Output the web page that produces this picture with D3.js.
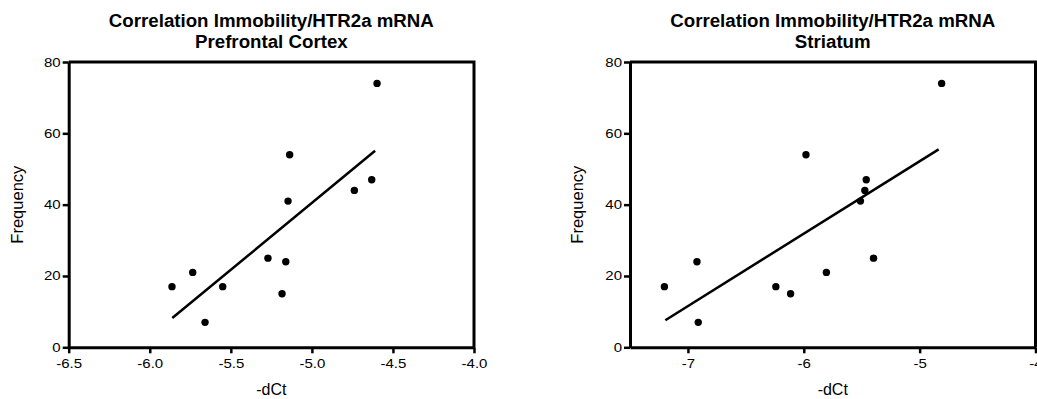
<!DOCTYPE html>
<html>
<head>
<meta charset="utf-8">
<script src="https://cdn.jsdelivr.net/npm/d3@7"></script>
<style>
  body { margin: 0; background: #fff; }
  svg { display: block; font-family: Arial, "Liberation Sans", sans-serif; }
</style>
</head>
<body>
<div id="chart"></div>
<script>
// data
var pfcX = [-5.863, -5.735, -5.659, -5.55, -5.271, -5.161, -5.184, -5.137, -5.147, -4.738, -4.631, -4.598];
var pfcY = [17, 21, 7, 17, 25, 24, 15, 54, 41, 44, 47, 74];
var pfcFitX = [-5.861, -4.61];
var pfcFitY = [8.2, 55.1];

var strX = [-7.203, -6.922, -6.911, -6.241, -6.114, -5.805, -5.398, -5.981, -5.461, -5.473, -5.511, -4.81];
var strY = [17, 24, 7, 17, 15, 21, 25, 54, 47, 44, 41, 74];
var strFitX = [-7.195, -4.836];
var strFitY = [7.6, 55.5];

var pfcXTicks = [-6.5, -6.0, -5.5, -5.0, -4.5, -4.0];
var strXTicks = [-7, -6, -5, -4];
var yTicks = [0, 20, 40, 60, 80];

var titleLine1 = 'Correlation Immobility/HTR2a mRNA';

var svgWidth = 1037;
var svgHeight = 399;

// plain hyphen for negative numbers, like the original
var loc = d3.formatLocale({ decimal: '.', thousands: ',', grouping: [3], currency: ['', ''], minus: '-' });

var svg = d3.select('#chart')
  .append('svg')
  .attr('width', svgWidth)
  .attr('height', svgHeight);

var panels = [
  { left: 68.7, right: 474, sub: 'Prefrontal Cortex', xDomain: [-6.5, -4.0], xTicks: pfcXTicks,
    fmt: loc.format('.1f'), xs: pfcX, ys: pfcY, fitX: pfcFitX, fitY: pfcFitY, yLabelX: 23 },
  { left: 630, right: 1035.5, sub: 'Striatum', xDomain: [-7.5, -4.0], xTicks: strXTicks,
    fmt: loc.format('d'), xs: strX, ys: strY, fitX: strFitX, fitY: strFitY, yLabelX: 583 }
];

var plotTop = 62, plotBottom = 347.3;
var stretch = 1.2; // tick labels are a bit wide in the original

panels.forEach(function(p) {
  var g = svg.append('g');

  var x = d3.scaleLinear().domain(p.xDomain).range([p.left, p.right]);
  var y = d3.scaleLinear().domain([0, 80]).range([plotBottom, plotTop]);

  // frame (top and right sides)
  g.append('path')
    .attr('d', 'M' + p.left + ',' + plotTop + 'H' + p.right + 'V' + plotBottom)
    .attr('fill', 'none')
    .attr('stroke', '#000')
    .attr('stroke-width', 3);

  // axes
  var bottomAxis = d3.axisBottom(x).tickValues(p.xTicks).tickFormat(p.fmt).tickSizeInner(6).tickSizeOuter(0).tickPadding(6);
  var leftAxis = d3.axisLeft(y).tickValues(yTicks).tickSizeInner(6).tickSizeOuter(0).tickPadding(2);

  var xa = g.append('g')
    .attr('transform', 'translate(0,' + plotBottom + ')')
    .call(bottomAxis);
  var ya = g.append('g')
    .attr('transform', 'translate(' + p.left + ',0)')
    .call(leftAxis);

  [xa, ya].forEach(function(a) {
    a.select('.domain').attr('stroke-width', 3).attr('stroke', '#000');
    a.selectAll('.tick line').attr('stroke-width', 2.5).attr('stroke', '#000');
    a.selectAll('.tick text')
      .attr('font-size', 12.5)
      .attr('font-family', 'Arial, "Liberation Sans", sans-serif')
      .attr('fill', '#000')
      .attr('transform', 'scale(' + stretch + ',1)');
  });
  ya.selectAll('.tick text').attr('x', -8 / stretch);

  // regression line
  g.append('line')
    .attr('x1', x(p.fitX[0])).attr('y1', y(p.fitY[0]))
    .attr('x2', x(p.fitX[1])).attr('y2', y(p.fitY[1]))
    .attr('stroke', '#000')
    .attr('stroke-width', 2.5);

  // points
  g.selectAll('circle.pt')
    .data(d3.range(p.xs.length))
    .enter()
    .append('circle')
    .attr('class', 'pt')
    .attr('cx', function(i) { return x(p.xs[i]); })
    .attr('cy', function(i) { return y(p.ys[i]); })
    .attr('r', 3.7)
    .attr('fill', '#000');

  var cx = (p.left + p.right) / 2;

  // titles
  g.append('text')
    .attr('x', cx).attr('y', 26.7)
    .attr('text-anchor', 'middle')
    .attr('font-size', 18.7).attr('font-weight', 'bold')
    .text(titleLine1);
  g.append('text')
    .attr('x', cx).attr('y', 48.3)
    .attr('text-anchor', 'middle')
    .attr('font-size', 18.7).attr('font-weight', 'bold')
    .text(p.sub);

  // axis labels
  g.append('text')
    .attr('x', cx).attr('y', 395)
    .attr('text-anchor', 'middle')
    .attr('font-size', 16)
    .text('-dCt');
  g.append('text')
    .attr('transform', 'translate(' + p.yLabelX + ',' + ((plotTop + plotBottom) / 2) + ') rotate(-90)')
    .attr('text-anchor', 'middle')
    .attr('font-size', 16.5)
    .text('Frequency');
});
</script>
</body>
</html>
